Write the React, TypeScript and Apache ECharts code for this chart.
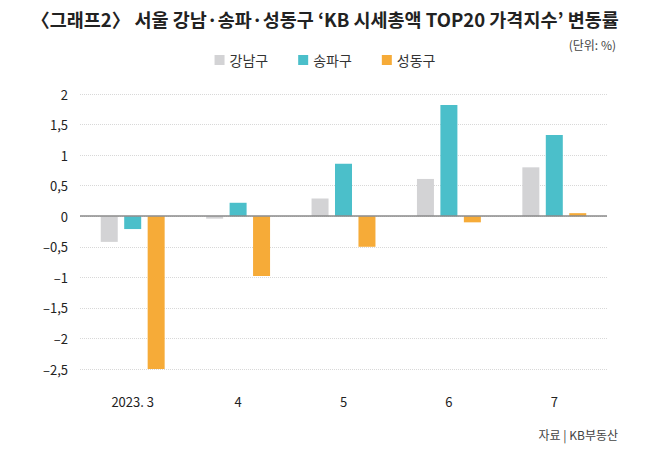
import React, { useEffect, useRef } from "react";
import * as echarts from "echarts";

const categories = ["2023. 3", "4", "5", "6", "7"];
const gangnam = [-0.42, -0.04, 0.29, 0.61, 0.8];
const songpa = [-0.21, 0.22, 0.86, 1.82, 1.33];
const seongdong = [-2.5, -0.98, -0.5, -0.1, 0.05];
const seriesNames = ["강남구", "송파구", "성동구"];

const FONT = "'Noto Sans CJK KR', 'Noto Sans', sans-serif";

function fmt(v: number): string {
  const s = Math.abs(v).toString().replace(".", ",");
  return v < 0 ? "–" + s : s;
}

export default function App() {
  const ref = useRef<HTMLDivElement>(null);
  useEffect(() => {
    const chart = echarts.init(ref.current!, null, { renderer: "svg" });
    const barCommon = {
      type: "bar" as const,
      barWidth: 17,
      barGap: "38%",
    };
    chart.setOption({
      animation: false,
      textStyle: { fontFamily: FONT },
      title: {
        text: "〈그래프2〉 서울 강남·송파·성동구 ‘KB 시세총액 TOP20 가격지수’ 변동률",
        left: "center",
        top: 5,
        textStyle: { fontSize: 18.5, fontWeight: "bold", color: "#222", fontFamily: FONT },
      },
      legend: {
        data: seriesNames,
        top: 48,
        left: "center",
        icon: "rect",
        itemWidth: 10,
        itemHeight: 10,
        itemGap: 30,
        textStyle: { fontSize: 14, color: "#333", fontFamily: FONT },
      },
      graphic: [
        {
          type: "text",
          right: 34,
          top: 38,
          style: { text: "(단위: %)", fontSize: 12, fill: "#444", fontFamily: FONT },
        },
        {
          type: "text",
          right: 32,
          top: 428,
          style: { text: "자료 | KB부동산", fontSize: 12, fill: "#444", fontFamily: FONT },
        },
      ],
      grid: { left: 80, right: 43, top: 94, bottom: 83 },
      xAxis: {
        type: "category",
        data: categories,
        axisLine: { show: false, onZero: false },
        axisTick: { show: false },
        axisLabel: { fontSize: 13, color: "#222", margin: 26, fontFamily: FONT },
      },
      yAxis: {
        type: "value",
        min: -2.5,
        max: 2,
        interval: 0.5,
        axisLine: { show: false },
        axisTick: { show: false },
        axisLabel: {
          fontSize: 13,
          color: "#222",
          margin: 12,
          fontFamily: FONT,
          formatter: (v: number) => fmt(v),
        },
        splitLine: { lineStyle: { color: "#d8d8d8", type: "dotted", width: 1 } },
      },
      series: [
        {
          ...barCommon,
          name: seriesNames[0],
          data: gangnam,
          itemStyle: { color: "#d3d3d5" },
          markLine: {
            silent: true,
            symbol: "none",
            label: { show: false },
            lineStyle: { color: "#8a8a8a", type: "solid", width: 1.5 },
            data: [{ yAxis: 0 }],
            z: 10,
          },
        },
        { ...barCommon, name: seriesNames[1], data: songpa, itemStyle: { color: "#4bbfca" } },
        { ...barCommon, name: seriesNames[2], data: seongdong, itemStyle: { color: "#f6ab38" } },
      ],
    });
    return () => chart.dispose();
  }, []);
  return (
    <div
      ref={ref}
      style={{ position: "absolute", left: 0, top: 0, width: 650, height: 452 }}
    />
  );
}
